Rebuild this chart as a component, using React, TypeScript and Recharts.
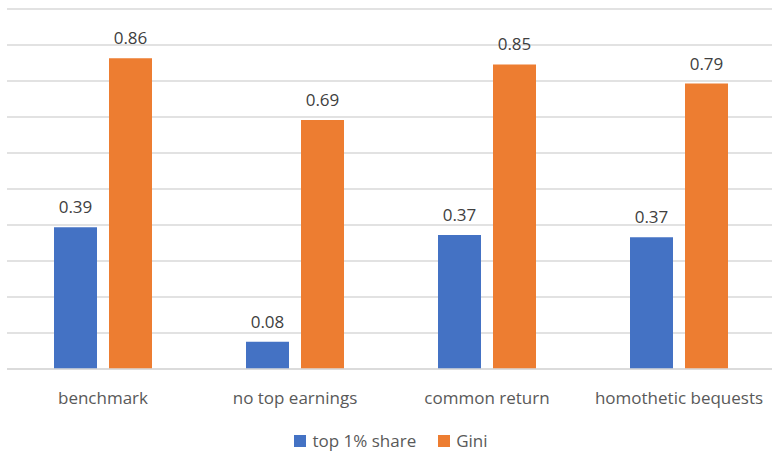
import { Bar, BarChart, CartesianGrid, LabelList, Legend, XAxis, YAxis } from "recharts";

const categories = ["benchmark", "no top earnings", "common return", "homothetic bequests"];
const topShare = [0.394, 0.076, 0.372, 0.366];
const gini = [0.863, 0.692, 0.846, 0.793];
const yTicks = [0, 0.1, 0.2, 0.3, 0.4, 0.5, 0.6, 0.7, 0.8, 0.9, 1];

const BLUE = "#4472C4";
const ORANGE = "#ED7D31";
const FONT = "'Open Sans', sans-serif";

const data = categories.map((name, i) => ({ name, top: topShare[i], gini: gini[i] }));

const legendItems = [
  { label: "top 1% share", color: BLUE },
  { label: "Gini", color: ORANGE },
];

function ChartLegend() {
  return (
    <div style={{ display: "flex", justifyContent: "center", alignItems: "center", gap: 22, marginTop: 8, fontFamily: FONT, fontSize: 17, color: "#595959" }}>
      {legendItems.map((it) => (
        <div key={it.label} style={{ display: "flex", alignItems: "center" }}>
          <span style={{ width: 12, height: 12, background: it.color, marginRight: 6, display: "inline-block" }} />
          <span>{it.label}</span>
        </div>
      ))}
    </div>
  );
}

export default function App() {
  return (
    <div style={{ position: "absolute", left: 0, top: 0, width: 772, height: 451, overflow: "hidden", background: "#fff" }}>
      <BarChart
        width={772}
        height={451}
        data={data}
        margin={{ top: 9, right: -3, bottom: 0, left: 7 }}
        barGap={12}
      >
        <CartesianGrid vertical={false} stroke="#d9d9d9" strokeWidth={1.5} />
        <XAxis
          dataKey="name"
          tickLine={false}
          axisLine={{ stroke: "#d9d9d9", strokeWidth: 1.5 }}
          height={52}
          tick={{ fill: "#595959", fontSize: 17, fontFamily: FONT }}
          dy={15}
        />
        <YAxis hide domain={[0, 1]} ticks={yTicks} />
        <Legend
          verticalAlign="bottom"
          content={() => <ChartLegend />}
          wrapperStyle={{ height: 30 }}
        />
        <Bar dataKey="top" fill={BLUE} barSize={43} isAnimationActive={false}>
          <LabelList
            dataKey="top"
            position="top"
            offset={14}
            formatter={(v: any) => Number(v).toFixed(2)}
            style={{ fill: "#404040", fontSize: 17, fontFamily: FONT }}
          />
        </Bar>
        <Bar dataKey="gini" fill={ORANGE} barSize={43} isAnimationActive={false}>
          <LabelList
            dataKey="gini"
            position="top"
            offset={14}
            formatter={(v: any) => Number(v).toFixed(2)}
            style={{ fill: "#404040", fontSize: 17, fontFamily: FONT }}
          />
        </Bar>
      </BarChart>
    </div>
  );
}
